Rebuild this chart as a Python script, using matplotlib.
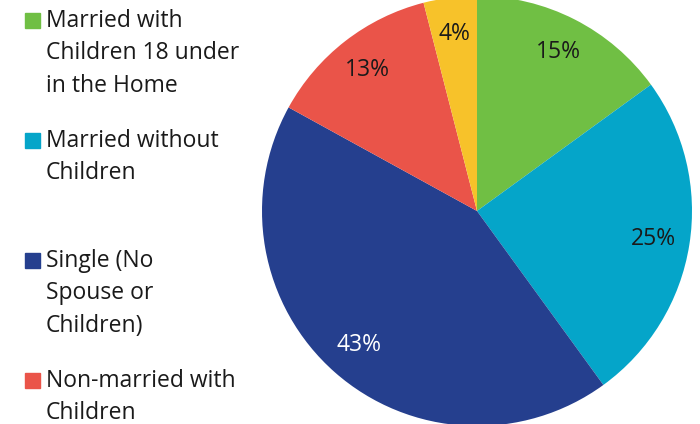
import matplotlib.pyplot as plt
from matplotlib.patches import Rectangle

plt.rcParams['font.family'] = ['Open Sans', 'DejaVu Sans']

categories = ['Married with\nChildren 18 under\nin the Home',
              'Married without\nChildren',
              'Single (No\nSpouse or\nChildren)',
              'Non-married with\nChildren',
              'Other']
shares = [15, 25, 43, 13, 4]
colors = ['#70BF44', '#05A5C9', '#253F8E', '#EA5449', '#F7C22A']
label_colors = ['#1a1a1a', '#1a1a1a', 'white', '#1a1a1a', '#1a1a1a']

W, H = 700, 424
fig = plt.figure(figsize=(7, 4.24), dpi=100)

# pie axes: centre (477, 211) px from top, radius 215 px
cx, cy, r = 477, 211, 215
ax = fig.add_axes([(cx - r) / W, (H - cy - r) / H, 2 * r / W, 2 * r / H])
wedges, texts, autotexts = ax.pie(shares, colors=colors, startangle=90, counterclock=False,
                                  autopct='%d%%', pctdistance=0.83,
                                  textprops={'fontsize': 16.5})
for t, c in zip(autotexts, label_colors):
    t.set_color(c)
ax.set_xlim(-1, 1)
ax.set_ylim(-1, 1)
ax.set_aspect('equal')
ax.axis('off')

# manual legend, one slot every 120 px
for i, (lab, col) in enumerate(zip(categories[:4], colors[:4])):
    top = 13 + i * 120
    fig.patches.append(Rectangle((25 / W, 1 - (top + 15) / H), 15 / W, 15 / H,
                                 transform=fig.transFigure, color=col))
    fig.text(46 / W, 1 - (top - 4) / H, lab, fontsize=16.5, va='top', ha='left',
             color='#1a1a1a', linespacing=1.47)

fig.savefig('out.png', dpi=100)
